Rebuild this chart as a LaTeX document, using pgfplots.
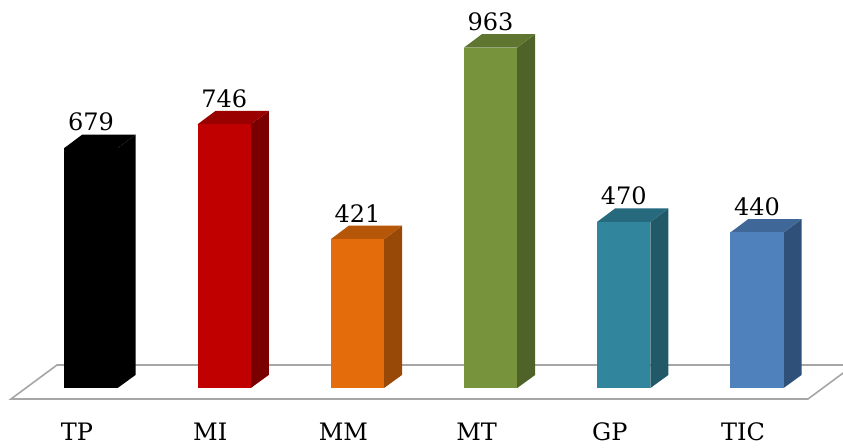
\documentclass[border=0pt]{standalone}
\usepackage{pgfplots}
\pgfplotsset{compat=1.18}
\usepackage{fontspec}
\setmainfont{DejaVu Serif}
\newfontfamily\lblfont{DejaVu Serif}

% colours: front, top, side
\definecolor{tpF}{HTML}{000000}\definecolor{tpT}{HTML}{000000}\definecolor{tpS}{HTML}{000000}
\definecolor{miF}{HTML}{C00000}\definecolor{miT}{HTML}{9B0000}\definecolor{miS}{HTML}{7A0000}
\definecolor{mmF}{HTML}{E46C0A}\definecolor{mmT}{HTML}{B65608}\definecolor{mmS}{HTML}{984807}
\definecolor{mtF}{HTML}{77933C}\definecolor{mtT}{HTML}{5F7630}\definecolor{mtS}{HTML}{4F6228}
\definecolor{gpF}{HTML}{31859C}\definecolor{gpT}{HTML}{27697D}\definecolor{gpS}{HTML}{215968}
\definecolor{ticF}{HTML}{4F81BD}\definecolor{ticT}{HTML}{3F6797}\definecolor{ticS}{HTML}{2F5078}
\definecolor{floorgray}{HTML}{A6A6A6}

% one 3d bar: index, value, colour prefix
\newcommand\barthreed[3]{%
  \pgfmathsetmacro\xl{#1-0.2}\pgfmathsetmacro\xr{#1+0.2}%
  \pgfmathsetmacro\xb{#1+0.335}\pgfmathsetmacro\xbl{#1-0.065}%
  \pgfmathsetmacro\vt{#2+38}%
  \addplot[fill=#3S, draw=none] coordinates {(\xr,0)(\xb,37)(\xb,\vt)(\xr,#2)} --cycle;
  \addplot[fill=#3T, draw=none] coordinates {(\xl,#2)(\xr,#2)(\xb,\vt)(\xbl,\vt)} --cycle;
  \addplot[ybar, bar width=0.4, bar shift=0pt, fill=#3F, draw=none,
    nodes near coords,
    nodes near coords style={anchor=base, yshift=17pt, inner sep=0pt,
      font=\lblfont\fontsize{24}{28}\selectfont, text=black}]
    coordinates {(#1,#2)};
}

\begin{document}
\begin{tikzpicture}
\useasboundingbox (0,-35pt) rectangle (843pt,412pt);
\begin{axis}[
  scale only axis,
  width=843pt, height=412pt,
  xmin=-0.6832, xmax=5.6456,
  ymin=-67.9, ymax=1097.6,
  axis line style={draw=none},
  major tick length=0pt,
  ytick=\empty,
  xtick={0,1,2,3,4,5},
  xticklabels={TP,MI,MM,MT,GP,TIC},
  xticklabel style={anchor=base, yshift=-28pt, xshift=-14pt,
    font=\lblfont\fontsize{24}{28}\selectfont},
  /pgf/number format/assume math mode=true,
]
% floor
\addplot[draw=floorgray, line width=1.6pt, fill=white]
  coordinates {(-0.6006,-31.1)(5.383,-31.1)(5.728,65.1)(-0.2553,65.1)} --cycle;

\barthreed{0}{679}{tp}
\barthreed{1}{746}{mi}
\barthreed{2}{421}{mm}
\barthreed{3}{963}{mt}
\barthreed{4}{470}{gp}
\barthreed{5}{440}{tic}
\end{axis}
\end{tikzpicture}
\end{document}
